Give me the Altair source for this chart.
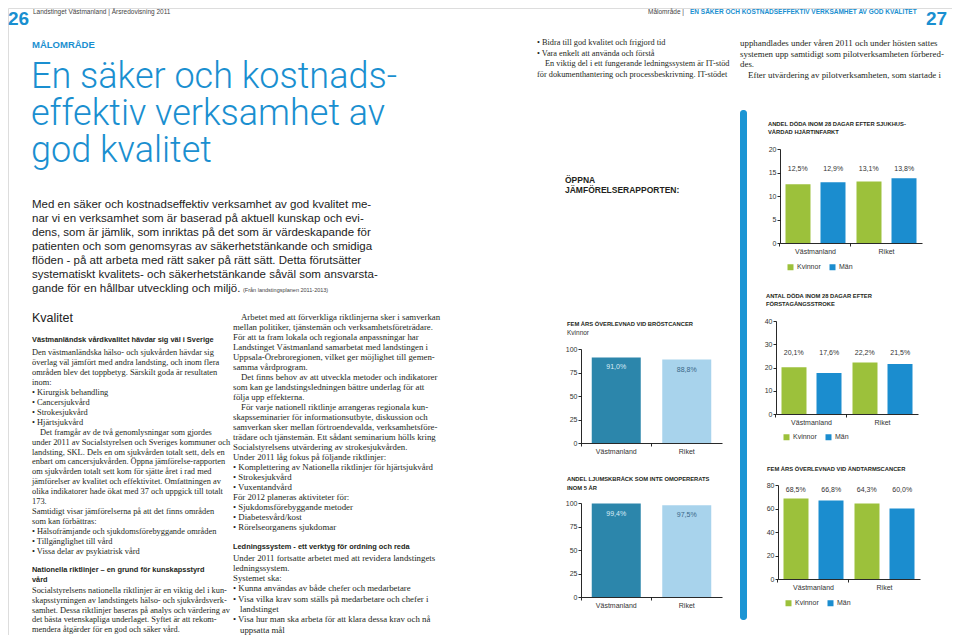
import altair as alt
import pandas as pd

OFF = 8
W, H = 944, 627


def P(v):
    return v - OFF


SANS = "Liberation Sans"
SERIF = "Liberation Serif"
LIGHTFONT = "Roboto"
BLUE = "#1a8fd0"
GREEN = "#9cc13b"
MBLUE = "#1b8dcf"
DARK = "#2c86ab"
LIGHT = "#a8d3ec"
INK = "#231f20"

# ---------------- chart data ----------------
mid_regions = ["Västmanland", "Riket"]
brost_values = [91.0, 88.8]
ljumsk_values = [99.4, 97.5]

regions = ["Västmanland", "Västmanland", "Riket", "Riket"]
genders = ["Kvinnor", "Män", "Kvinnor", "Män"]
gender_domain = ["Kvinnor", "Män"]
hjart_values = [12.5, 12.9, 13.1, 13.8]
stroke_values = [20.1, 17.6, 22.2, 21.5]
andtarm_values = [68.5, 66.8, 64.3, 60.0]

mid_ticks = [0, 25, 50, 75, 100]
hjart_ticks = [0, 5, 10, 15, 20]
stroke_ticks = [0, 10, 20, 30, 40]
andtarm_ticks = [0, 20, 40, 60, 80]

# ---------------- text ----------------
title_lines = ["En säker och kostnads-", "effektiv verksamhet av", "god kvalitet"]
intro_lines = [
    "Med en säker och kostnadseffektiv verksamhet av god kvalitet me-",
    "nar vi en verksamhet som är baserad på aktuell kunskap och evi-",
    "dens, som är jämlik, som inriktas på det som är värdeskapande för",
    "patienten och som genomsyras av säkerhetstänkande och smidiga",
    "flöden - på att arbeta med rätt saker på rätt sätt. Detta förutsätter",
    "systematiskt kvalitets- och säkerhetstänkande såväl som ansvarsta-",
    "gande för en hållbar utveckling och miljö.",
]
col1_a = [
    "Den västmanländska hälso- och sjukvården hävdar sig",
    "överlag väl jämfört med andra landsting, och inom flera",
    "områden blev det toppbetyg. Särskilt goda är resultaten",
    "inom:",
    "• Kirurgisk behandling",
    "• Cancersjukvård",
    "• Strokesjukvård",
    "• Hjärtsjukvård",
    "\tDet framgår av de två genomlysningar som gjordes",
    "under 2011 av Socialstyrelsen och Sveriges kommuner och",
    "landsting, SKL. Dels en om sjukvården totalt sett, dels en",
    "enbart om cancersjukvården. Öppna jämförelse-rapporten",
    "om sjukvården totalt sett kom för sjätte året i rad med",
    "jämförelser av kvalitet och effektivitet. Omfattningen av",
    "olika indikatorer hade ökat med 37 och uppgick till totalt",
    "173.",
    "Samtidigt visar jämförelserna på att det finns områden",
    "som kan förbättras:",
    "• Hälsofrämjande och sjukdomsförebyggande områden",
    "• Tillgänglighet till vård",
    "• Vissa delar av psykiatrisk vård",
]
col1_head2 = ["Nationella riktlinjer – en grund för kunskapsstyrd", "vård"]
col1_b = [
    "Socialstyrelsens nationella riktlinjer är en viktig del i kun-",
    "skapsstyrningen av landstingets hälso- och sjukvårdsverk-",
    "samhet. Dessa riktlinjer baseras på analys och värdering av",
    "det bästa vetenskapliga underlaget. Syftet är att rekom-",
    "mendera åtgärder för en god och säker vård.",
]
col2_a = [
    "\tArbetet med att förverkliga riktlinjerna sker i samverkan",
    "mellan politiker, tjänstemän och verksamhetsföreträdare.",
    "För att ta fram lokala och regionala anpassningar har",
    "Landstinget Västmanland samarbetat med landstingen i",
    "Uppsala-Örebroregionen, vilket ger möjlighet till gemen-",
    "samma vårdprogram.",
    "\tDet finns behov av att utveckla metoder och indikatorer",
    "som kan ge landstingsledningen bättre underlag för att",
    "följa upp effekterna.",
    "\tFör varje nationell riktlinje arrangeras regionala kun-",
    "skapsseminarier för informationsutbyte, diskussion och",
    "samverkan sker mellan förtroendevalda, verksamhetsföre-",
    "trädare och tjänstemän. Ett sådant seminarium hölls kring",
    "Socialstyrelsens utvärdering av strokesjukvården.",
    "Under 2011 låg fokus på följande riktlinjer:",
    "• Komplettering av Nationella riktlinjer för hjärtsjukvård",
    "• Strokesjukvård",
    "• Vuxentandvård",
    "För 2012 planeras aktiviteter för:",
    "• Sjukdomsförebyggande metoder",
    "• Diabetesvård/kost",
    "• Rörelseorganens sjukdomar",
]
col2_b = [
    "Under 2011 fortsatte arbetet med att revidera landstingets",
    "ledningssystem.",
    "Systemet ska:",
    "• Kunna användas av både chefer och medarbetare",
    "• Visa vilka krav som ställs på medarbetare och chefer i",
    "~landstinget",
    "• Visa hur man ska arbeta för att klara dessa krav och nå",
    "~uppsatta mål",
]
mid_top = [
    "• Bidra till god kvalitet och frigjord tid",
    "• Vara enkelt att använda och förstå",
    "\tEn viktig del i ett fungerande ledningssystem är IT-stöd",
    "för dokumenthantering och processbeskrivning. IT-stödet",
]
right_top = [
    "upphandlades under våren 2011 och under hösten sattes",
    "systemen upp samtidigt som pilotverksamheten förbered-",
    "des.",
    "\tEfter utvärdering av pilotverksamheten, som startade i",
]


def pct(v):
    return f"{v:.1f}".replace(".", ",") + "%"


def text_layer(lines, x, y0, lead, size, font, weight="normal", color=INK,
               indent=8, hang=7, baseline="middle"):
    rows = []
    for i, line in enumerate(lines):
        dx = 0
        if line.startswith("\t"):
            line, dx = line[1:], indent
        elif line.startswith("~"):
            line, dx = line[1:], hang
        rows.append({"px": P(x + dx), "py": P(y0 + i * lead), "t": line})
    return alt.Chart(pd.DataFrame(rows)).mark_text(
        align="left", baseline=baseline, font=font, fontSize=size,
        fontWeight=weight, color=color,
    ).encode(
        x=alt.X("px:Q", scale=None, axis=None),
        y=alt.Y("py:Q", scale=None, axis=None),
        text="t:N",
    )


def axis_common():
    return dict(title=None, labelFont=SANS, labelFontSize=7, labelColor="#333333",
                domainColor="#111111", tickColor="#111111", domainWidth=0.9,
                tickWidth=0.9, grid=False, tickSize=3)


def mid_chart(values, x0, x1, ybot, ytop):
    df = pd.DataFrame({"region": mid_regions, "value": values})
    df["label"] = [pct(v) for v in values]
    xs = alt.Scale(domain=mid_regions, range=[P(x0), P(x1)],
                   paddingInner=0.305, paddingOuter=0.1525)
    ys = alt.Scale(domain=[0, 100], range=[P(ybot), P(ytop)], nice=False)
    xax = alt.Axis(orient="bottom", offset=P(ybot) - H, labelAngle=0,
                   labelPadding=1, bandPosition=-0.219, **axis_common())
    yax = alt.Axis(orient="left", offset=-P(x0), values=mid_ticks,
                   labelPadding=1, **axis_common())
    bars = alt.Chart(df).mark_bar().encode(
        x=alt.X("region:N", scale=xs, sort=mid_regions, axis=xax),
        y=alt.Y("value:Q", scale=ys, axis=yax),
        color=alt.Color("region:N", scale=alt.Scale(domain=mid_regions, range=[DARK, LIGHT]),
                        legend=None),
    )
    labels = alt.Chart(df).mark_text(dy=10, baseline="middle", font=SANS, fontSize=7).encode(
        x=alt.X("region:N", scale=xs, sort=mid_regions, axis=None),
        y=alt.Y("value:Q", scale=ys, axis=None),
        text="label:N",
        color=alt.condition(alt.datum.region == "Västmanland",
                            alt.value("#d9ecf6"), alt.value("#3a6787")),
    )
    return [bars, labels]


def right_chart(values, ticks, x0, x1, ybot, ytop, legend_y):
    df = pd.DataFrame({"region": regions, "gender": genders, "value": values})
    df["label"] = [pct(v) for v in values]
    df["key"] = [r + " " + g for r, g in zip(regions, genders)]
    keys = list(df["key"])
    xs = alt.Scale(domain=mid_regions, range=[P(x0), P(x1)],
                   paddingInner=0.155, paddingOuter=0.0775)
    xo = alt.Scale(domain=gender_domain, paddingInner=0.286, paddingOuter=0)
    xk = alt.Scale(domain=keys, range=[P(x0), P(x1)], paddingInner=0, paddingOuter=0)
    ys = alt.Scale(domain=[ticks[0], ticks[-1]], range=[P(ybot), P(ytop)], nice=False)
    xax = alt.Axis(orient="bottom", offset=P(ybot) - H, labelAngle=0,
                   labelPadding=1, bandPosition=-0.092, **axis_common())
    yax = alt.Axis(orient="left", offset=-P(x0), values=ticks,
                   labelPadding=1, **axis_common())
    leg = alt.Legend(orient="none", legendX=P(x0 + 7), legendY=P(legend_y - 3.5),
                     direction="horizontal", title=None, symbolType="square",
                     symbolSize=36, symbolStrokeWidth=0, labelFont=SANS,
                     labelFontSize=7, labelColor="#333333", columnPadding=8,
                     labelOffset=3, padding=0)
    bars = alt.Chart(df).mark_bar().encode(
        x=alt.X("region:N", scale=xs, sort=mid_regions, axis=xax),
        xOffset=alt.XOffset("gender:N", scale=xo, sort=gender_domain),
        y=alt.Y("value:Q", scale=ys, axis=yax),
        color=alt.Color("gender:N", scale=alt.Scale(domain=gender_domain, range=[GREEN, MBLUE]),
                        sort=gender_domain, legend=leg),
    )
    labels = alt.Chart(df).transform_joinaggregate(top="max(value)").mark_text(
        dy=-9, baseline="middle", font=SANS, fontSize=7, color="#333333"
    ).encode(
        x=alt.X("key:N", scale=xk, sort=keys, axis=None),
        y=alt.Y("top:Q", scale=ys, axis=None),
        text="label:N",
    )
    return [bars, labels]


layers = []

# header
layers.append(text_layer(["26"], 8, 19, 0, 19, SANS, "bold", BLUE, baseline="middle"))
layers.append(text_layer(["Landstinget Västmanland | Årsredovisning 2011"], 33, 12, 0, 6.5, SANS, color="#444444"))
layers.append(text_layer(["Målområde | "], 648, 12, 0, 6.5, SANS, color="#444444"))
layers.append(text_layer(["EN SÄKER OCH KOSTNADSEFFEKTIV VERKSAMHET AV GOD KVALITET"], 690, 12, 0, 6.5, SANS, "bold", BLUE))
layers.append(text_layer(["27"], 926, 19, 0, 19, SANS, "bold", BLUE, baseline="middle"))

# left page
layers.append(text_layer(["MÅLOMRÅDE"], 32, 45, 0, 9.5, SANS, "bold", BLUE))
layers.append(text_layer(title_lines, 31, 88, 37, 36, LIGHTFONT, 300, BLUE, baseline="alphabetic"))
layers.append(text_layer(intro_lines, 32, 205, 14, 11.5, SANS, color="#222222"))
layers.append(text_layer(["(Från landstingsplanen 2011-2013)"], 243, 290, 0, 5.5, SANS, color="#444444"))
layers.append(text_layer(["Kvalitet"], 32, 318, 0, 12.5, SANS, color="#222222"))
layers.append(text_layer(["Västmanländsk vårdkvalitet hävdar sig väl i Sverige"], 32, 339.5, 0, 7.4, SANS, "bold"))
layers.append(text_layer(col1_a, 32, 352, 9.95, 8.4, SERIF))
layers.append(text_layer(col1_head2, 32, 570, 9.5, 7.4, SANS, "bold"))
layers.append(text_layer(col1_b, 32, 590, 9.8, 8.4, SERIF))
layers.append(text_layer(col2_a, 233, 317, 10, 8.8, SERIF))
layers.append(text_layer(["Ledningssystem - ett verktyg för ordning och reda"], 233, 547, 0, 7.4, SANS, "bold"))
layers.append(text_layer(col2_b, 233, 557.5, 10.3, 8.8, SERIF))

# right page text
layers.append(text_layer(mid_top, 537, 43, 10.6, 8.3, SERIF))
layers.append(text_layer(right_top, 740, 43, 10.6, 8.9, SERIF))
layers.append(text_layer(["ÖPPNA", "JÄMFÖRELSERAPPORTEN:"], 565, 180, 10, 8.5, SANS, "bold"))

# blue accent bar
layers.append(
    alt.Chart(pd.DataFrame({"k": [0]})).mark_rect(color="#1b95d4", cornerRadius=3).encode(
        x=alt.value(P(740)), x2=alt.value(P(747)), y=alt.value(P(110)), y2=alt.value(P(620))
    )
)

# middle charts
layers.append(text_layer(["FEM ÅRS ÖVERLEVNAD VID BRÖSTCANCER"], 567, 324, 0, 5.8, SANS, "bold"))
layers.append(text_layer(["Kvinnor"], 567, 333, 0, 6.5, SANS, color="#333333"))
layers += mid_chart(brost_values, 581, 722, 443, 349)
layers.append(text_layer(["ANDEL LJUMSKBRÅCK SOM INTE OMOPERERATS", "INOM 5 ÅR"], 567, 479, 8.5, 5.8, SANS, "bold"))
layers += mid_chart(ljumsk_values, 581, 722, 597, 503)

# right charts
layers.append(text_layer(["ANDEL DÖDA INOM 28 DAGAR EFTER SJUKHUS-", "VÅRDAD HJÄRTINFARKT"], 768, 124, 8.3, 5.8, SANS, "bold"))
layers += right_chart(hjart_values, hjart_ticks, 780, 922, 243, 149, 267)
layers.append(text_layer(["ANTAL DÖDA INOM 28 DAGAR EFTER", "FÖRSTAGÅNGSSTROKE"], 766, 296, 8.3, 5.8, SANS, "bold"))
layers += right_chart(stroke_values, stroke_ticks, 776, 918, 414, 321, 437)
layers.append(text_layer(["FEM ÅRS ÖVERLEVNAD VID ÄNDTARMSCANCER"], 767, 469, 0, 5.8, SANS, "bold"))
layers += right_chart(andtarm_values, andtarm_ticks, 778, 920, 579, 485, 603)

chart = (
    alt.layer(*layers)
    .properties(width=W, height=H, autosize=alt.AutoSizeParams(type="none"), padding=0)
    .resolve_scale(x="independent", y="independent", xOffset="independent", color="independent")
    .resolve_axis(x="independent", y="independent")
    .resolve_legend(color="independent")
    .configure_view(strokeWidth=0)
    .configure(background="white")
)

chart.save("out.html", embed_options={"renderer": "svg", "actions": False})
